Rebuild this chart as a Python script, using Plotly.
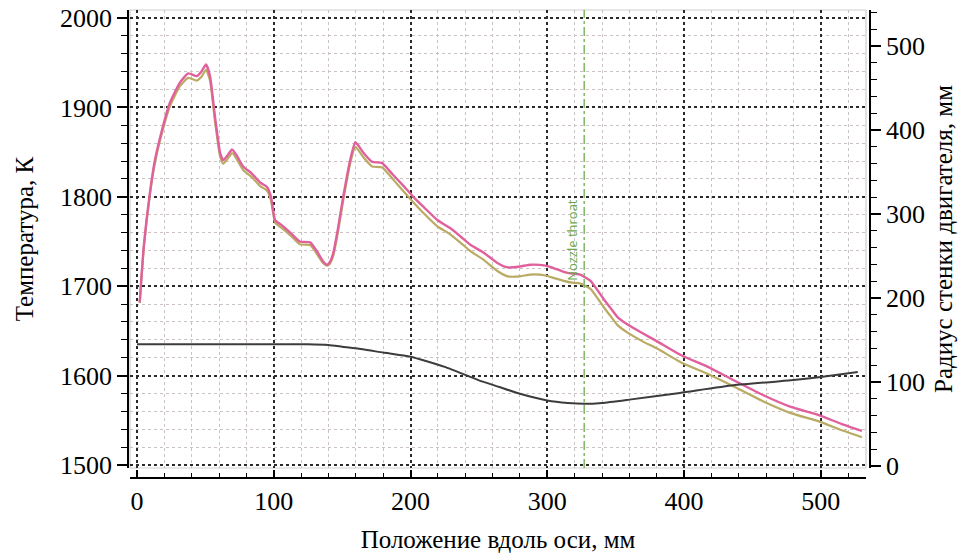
import plotly.graph_objects as go

# ---- data ----
pos_mm = [2, 5, 9.5, 13, 17, 24, 31.5, 37.5, 43.7, 47, 50.5, 53.4, 57, 60.8, 63, 66,
          69.5, 73, 77.6, 84, 90, 95, 98, 101, 106, 112, 119, 126.6, 131.6, 136, 139,
          141, 143.5, 147, 150.8, 156, 159.6, 162, 165.7, 172, 179, 187, 195, 202, 210,
          219.6, 229, 237, 244, 253, 263.5, 271, 280, 287.7, 298.7, 305, 312, 318, 324,
          331.6, 336, 341, 346, 351, 358.7, 370, 380.6, 397.5, 417, 436, 458, 478, 498,
          515, 530]

temp_pink = [1682, 1745, 1805, 1840, 1867, 1905, 1928, 1938, 1935, 1940, 1948, 1935,
             1890, 1849, 1841, 1846, 1853, 1846, 1834, 1826, 1816, 1811, 1800, 1774,
             1768, 1760, 1750, 1749, 1739, 1728, 1724, 1727, 1737, 1765, 1800, 1842,
             1861, 1857, 1849, 1839, 1838, 1825, 1812, 1800, 1788, 1774, 1765, 1755,
             1746, 1738, 1726, 1721, 1722, 1724, 1723, 1720, 1716, 1714, 1713, 1706,
             1697, 1686, 1676, 1666, 1657, 1647, 1638, 1623, 1610, 1595, 1578, 1565,
             1556, 1546, 1538]

temp_olive = [1681, 1743, 1803, 1837, 1864, 1901, 1924, 1933, 1930, 1934, 1942, 1930,
              1885, 1845, 1837, 1842, 1849, 1842, 1830, 1822, 1812, 1807, 1796, 1771,
              1765, 1757, 1747, 1746, 1736, 1726, 1723, 1725, 1734, 1761, 1796, 1838,
              1856, 1852, 1844, 1834, 1833, 1820, 1806, 1794, 1781, 1767, 1758, 1748,
              1739, 1730, 1717, 1711, 1711, 1713, 1712, 1709, 1706, 1704, 1703, 1697,
              1688, 1677, 1667, 1657, 1648, 1638, 1630, 1615, 1602, 1588, 1571, 1558,
              1549, 1539, 1531]

radius_pos_mm = [0, 125, 140, 150, 165, 180, 200, 225, 250, 265, 280, 300, 315, 327,
                 340, 360, 397, 436, 478, 500, 527]
radius_mm = [145, 145, 144, 142, 139, 135, 130, 118, 102, 94, 86, 78, 75, 74,
             75, 79, 87, 96, 102, 106, 112]

throat_mm = 327
throat_label = "Nozzle throat"
throat_label_temp = 1704

x_title = "Положение вдоль оси, мм"
y_title = "Температура, К"
y2_title = "Радиус стенки двигателя, мм"

# ---- figure ----
serif = "Liberation Serif, Times New Roman, serif"
tickfont = dict(family=serif, size=26, color="black")
titlefont = dict(family=serif, size=25, color="black")
major_grid = dict(showgrid=True, gridcolor="#2a2a2a", griddash="dot", gridwidth=1.6)
minor_grid_color = "#cbc3c3"

fig = go.Figure()
fig.add_trace(go.Scatter(x=pos_mm, y=temp_olive, mode="lines", yaxis="y",
                         line=dict(color="#b9ab63", width=2.2, shape="spline", smoothing=0.5),
                         showlegend=False))
fig.add_trace(go.Scatter(x=pos_mm, y=temp_pink, mode="lines", yaxis="y",
                         line=dict(color="#e0609c", width=2.4, shape="spline", smoothing=0.5),
                         showlegend=False))
fig.add_trace(go.Scatter(x=radius_pos_mm, y=radius_mm, mode="lines", yaxis="y2",
                         line=dict(color="#3c3c3c", width=2, shape="spline", smoothing=0.5),
                         showlegend=False))

fig.update_layout(
    width=966, height=553,
    margin=dict(l=128, r=96, t=10, b=75, autoexpand=False),
    paper_bgcolor="white", plot_bgcolor="white",
    xaxis=dict(
        domain=[0.0027, 0.9946], range=[-5.1, 533], anchor="free", position=0,
        automargin=False,
        showline=True, linecolor="black", linewidth=1.6,
        ticks="inside", ticklen=7, tickwidth=1.5, tickcolor="black",
        tick0=0, dtick=100, tickfont=tickfont, ticklabelstandoff=0,
        zeroline=False, **major_grid,
        minor=dict(dtick=20, ticks="inside", ticklen=4, tickwidth=1.2, tickcolor="black",
                   showgrid=True, gridcolor=minor_grid_color, griddash="dot", gridwidth=1),
        title=dict(text=x_title, font=titlefont, standoff=14),
    ),
    yaxis=dict(
        domain=[0.0214, 1], range=[1496.6, 2009], anchor="free", position=0,
        automargin=False, ticklabeloverflow="allow",
        showline=True, linecolor="black", linewidth=1.6,
        ticks="outside", ticklen=10, tickwidth=1.5, tickcolor="black",
        tick0=1500, dtick=100, tickfont=tickfont, zeroline=False, **major_grid,
        minor=dict(dtick=20, ticks="outside", ticklen=6, tickwidth=1.2, tickcolor="black",
                   showgrid=True, gridcolor=minor_grid_color, griddash="dot", gridwidth=1),
        title=dict(text=y_title, font=titlefont, standoff=18),
    ),
    yaxis2=dict(
        overlaying="y", side="right", anchor="free", position=1, automargin=False,
        ticklabeloverflow="allow",
        range=[-2.4, 543], showline=True, linecolor="black", linewidth=1.6,
        ticks="outside", ticklen=10, tickwidth=1.5, tickcolor="black",
        tick0=0, dtick=100, tickfont=tickfont, showgrid=False, zeroline=False,
        minor=dict(dtick=20, ticks="outside", ticklen=6, tickwidth=1.2, tickcolor="black",
                   showgrid=False),
        title=dict(text=y2_title, font=titlefont, standoff=10),
    ),
    shapes=[
        dict(type="rect", xref="x domain", yref="y domain", x0=0, x1=1, y0=0, y1=1,
             line=dict(color="#cfcfcf", width=1.2), layer="below"),
        dict(type="line", xref="x", yref="y domain", x0=throat_mm, x1=throat_mm, y0=0, y1=1,
             line=dict(color="#86b86e", width=1.6, dash="dashdot")),
    ],
    annotations=[
        dict(text=throat_label, x=throat_mm, xref="x", y=throat_label_temp, yref="y",
             textangle=-90, xanchor="right", yanchor="bottom", xshift=-2, showarrow=False,
             font=dict(family="Open Sans", size=13, color="#6aa84f")),
    ],
)

# remove the default 8px page margin so the figure fills the 966x553 window exactly
fig.write_html("out.html", config={"displayModeBar": False},
               post_script="document.body.style.margin='0px';document.body.style.overflow='hidden';")
